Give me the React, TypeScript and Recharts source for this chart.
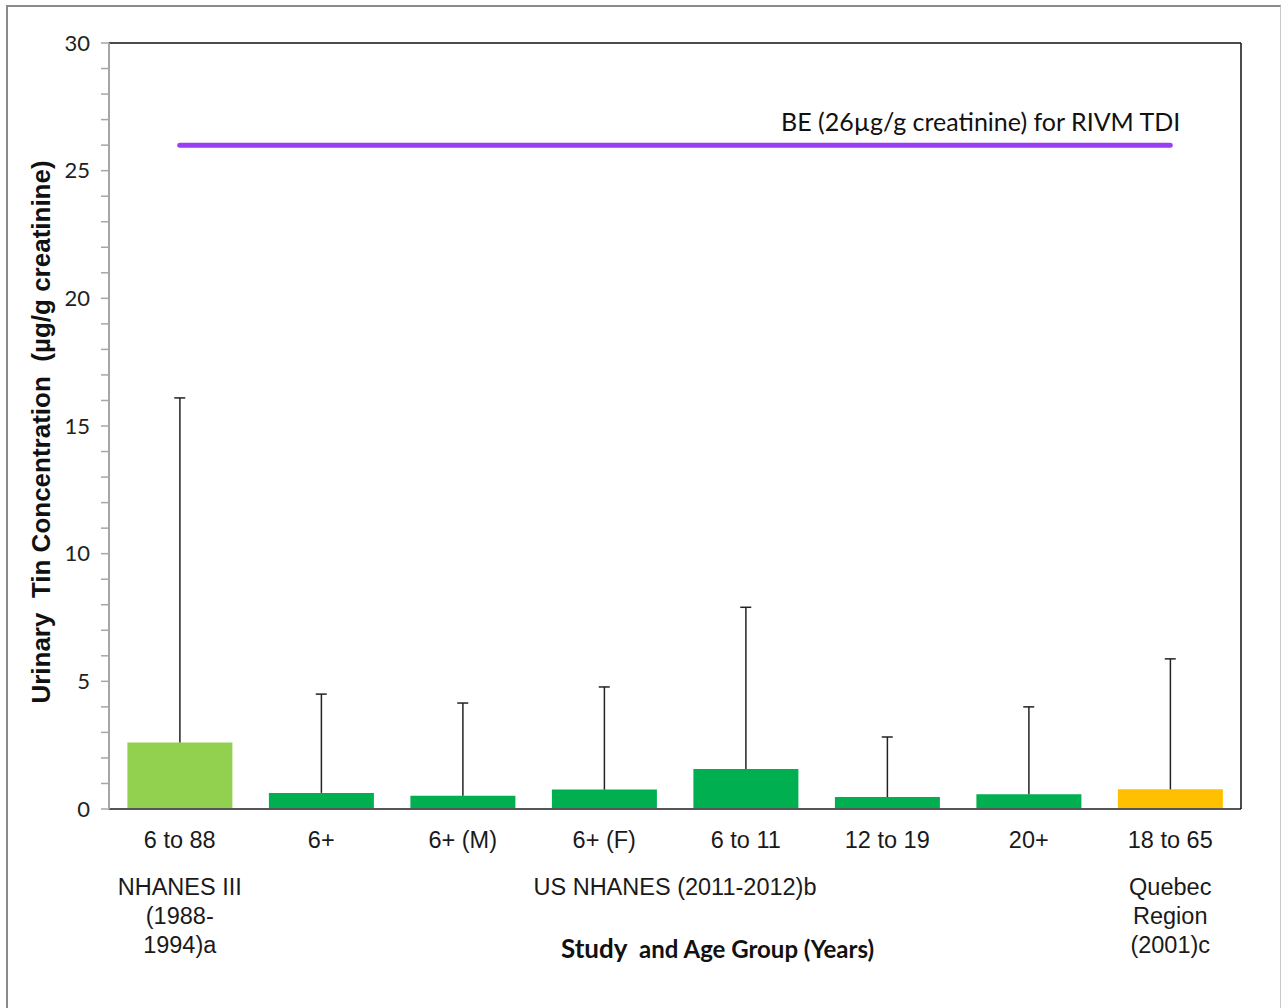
import React from 'react';
import {
  ComposedChart,
  Bar,
  Line,
  XAxis,
  YAxis,
  ErrorBar,
  Scatter,
  Cell,
  ReferenceLine,
  Label,
} from 'recharts';

const categories = ['6 to 88', '6+', '6+ (M)', '6+ (F)', '6 to 11', '12 to 19', '20+', '18 to 65'];
const means = [2.6, 0.63, 0.52, 0.76, 1.57, 0.47, 0.58, 0.77];
const upperBounds = [16.1, 4.5, 4.15, 4.78, 7.9, 2.82, 4.0, 5.88];
const barColors = ['#92D050', '#00B050', '#00B050', '#00B050', '#00B050', '#00B050', '#00B050', '#FFC000'];
const beValue = 26;
const beLabel = 'BE (26µg/g creatinine) for RIVM TDI';
const yTicks = [0, 1, 2, 3, 4, 5, 6, 7, 8, 9, 10, 11, 12, 13, 14, 15, 16, 17, 18, 19, 20, 21, 22, 23, 24, 25, 26, 27, 28, 29, 30];
// group label lines, keyed by the category index they are anchored to;
// 'between' means centred on the boundary after that category
const groupLabels: { index: number; between: boolean; lines: string[] }[] = [
  { index: 0, between: false, lines: ['NHANES III', '(1988-', '1994)a'] },
  { index: 3, between: true, lines: ['US NHANES (2011-2012)b'] },
  { index: 7, between: false, lines: ['Quebec', 'Region', '(2001)c'] },
];
const yTitle = 'Urinary\u00a0\u00a0Tin Concentration\u00a0\u00a0(µg/g creatinine)';

const data = categories.map((c, i) => ({
  cat: c,
  mean: means[i],
  err: [0, upperBounds[i] - means[i]],
  upper: upperBounds[i],
  be: beValue,
}));

const ARIAL = '"Liberation Sans", Arial, sans-serif';
const CAL = 'Lato, "Open Sans", sans-serif';

const CatTick = (props: any) => {
  const { x, y, payload, index } = props;
  const half = payload && typeof payload.offset === 'number' ? payload.offset : 70.75;
  const groups = groupLabels.filter((g) => g.index === index);
  return (
    <g>
      <text x={x} y={y + 31} dy="0.36em" textAnchor="middle" fontFamily={ARIAL} fontSize={23.5} fill="#1a1a1a">
        {payload.value}
      </text>
      {groups.map((g, gi) =>
        g.lines.map((l, k) => (
          <text
            key={`${gi}-${k}`}
            x={g.between ? x + half : x}
            y={y + 78 + k * 29}
            dy="0.36em"
            textAnchor="middle"
            fontFamily={ARIAL}
            fontSize={23.5}
            fill="#1a1a1a"
          >
            {l}
          </text>
        ))
      )}
    </g>
  );
};

const CapShape = (props: any) => {
  const { cx, cy } = props;
  return <line x1={cx - 5.5} x2={cx + 5.5} y1={cy} y2={cy} stroke="#222" strokeWidth={1.5} />;
};

const BeLabel = (props: any) => {
  const { x, y, index } = props;
  if (index !== categories.length - 1) return null;
  return (
    <text x={x + 10} y={y - 23} dy="0.36em" textAnchor="end" fontFamily={CAL} fontSize={25} fill="#111">
      {beLabel}
    </text>
  );
};

export default function App() {
  return (
    <div style={{ position: 'absolute', left: 0, top: 0, width: 1282, height: 1008, background: '#fff', overflow: 'hidden' }}>
      <div
        style={{
          position: 'absolute',
          left: 6,
          top: 5,
          width: 1272,
          height: 1020,
          borderTop: '2px solid #8a8a8a',
          borderLeft: '2px solid #8a8a8a',
          borderRight: '1px solid #c8c8c8',
        }}
      />
      <div style={{ position: 'absolute', left: 0, top: 0 }}>
        <ComposedChart
          width={1282}
          height={1008}
          data={data}
          margin={{ top: 43, right: 0, bottom: 0, left: 0 }}
          barCategoryGap="13%"
        >
          <XAxis
            dataKey="cat"
            height={199}
            tickLine={false}
            tickSize={0}
            tickMargin={0}
            axisLine={{ stroke: '#555', strokeWidth: 2 }}
            tick={<CatTick />}
            interval={0}
          >
            <Label
              content={(p: any) => {
                const vb = p.viewBox || {};
                const cx = vb.x + vb.width / 2 + 42.5;
                const cy = vb.y + 143;
                return (
                  <text x={cx} y={cy} dy="0.36em" textAnchor="middle" fontFamily={CAL} fontWeight="bold" fill="#111">
                    <tspan fontSize={26}>Study</tspan>
                    <tspan fontSize={24}>{'\u00a0 and Age Group (Years)'}</tspan>
                  </text>
                );
              }}
            />
          </XAxis>
          <YAxis
            yAxisId="left"
            domain={[0, 30]}
            ticks={yTicks}
            interval={0}
            width={109}
            tickSize={8}
            tickMargin={11}
            axisLine={{ stroke: '#a6a6a6', strokeWidth: 2 }}
            tickLine={{ stroke: '#a6a6a6', strokeWidth: 1.5 }}
            tickFormatter={(v: number) => (v % 5 === 0 ? String(v) : '')}
            tick={{ fontFamily: CAL, fontSize: 22, fill: '#222' }}
          >
            <Label
              content={(p: any) => {
                const vb = p.viewBox || {};
                const cx = vb.x + 41;
                const cy = vb.y + vb.height / 2 + 6;
                return (
                  <text
                    x={cx}
                    y={cy}
                    dy="0.36em"
                    textAnchor="middle"
                    transform={`rotate(-90 ${cx} ${cy})`}
                    fontFamily={ARIAL}
                    fontWeight="bold"
                    fontSize={26}
                    fill="#111"
                  >
                    {yTitle}
                  </text>
                );
              }}
            />
          </YAxis>
          <YAxis
            yAxisId="right"
            orientation="right"
            domain={[0, 30]}
            width={41}
            tick={false}
            tickLine={false}
            axisLine={{ stroke: '#111', strokeWidth: 1.5 }}
          />
          <ReferenceLine yAxisId="left" y={30} stroke="#111" strokeWidth={1.5} />
          <Bar dataKey="mean" yAxisId="left" isAnimationActive={false}>
            {data.map((d, i) => (
              <Cell key={i} fill={barColors[i]} />
            ))}
            <ErrorBar dataKey="err" width={0} stroke="#222" strokeWidth={1.5} direction="y" />
          </Bar>
          <Scatter dataKey="upper" yAxisId="left" isAnimationActive={false} shape={<CapShape />} />
          <Line
            dataKey="be"
            yAxisId="left"
            stroke="#9B3DF5"
            strokeWidth={5}
            strokeLinecap="round"
            dot={false}
            activeDot={false}
            isAnimationActive={false}
            label={<BeLabel />}
          />
        </ComposedChart>
      </div>
    </div>
  );
}
